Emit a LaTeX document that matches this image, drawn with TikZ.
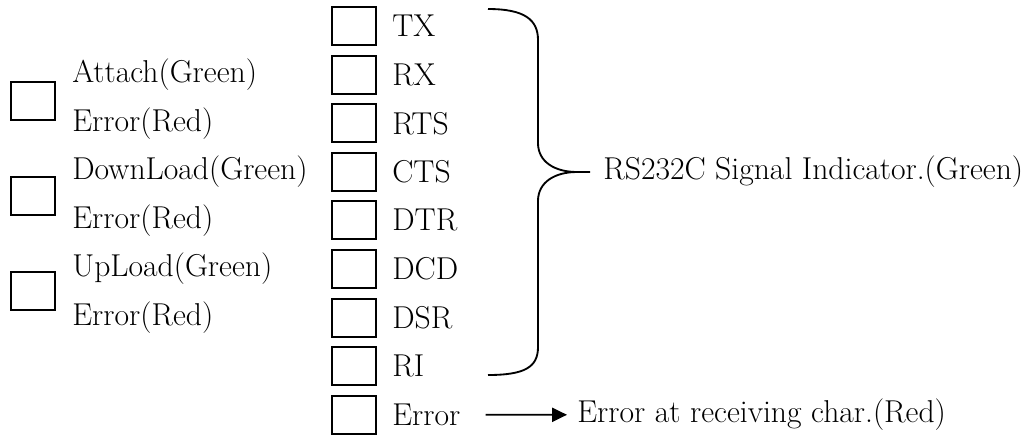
\documentclass[tikz,border=0pt]{standalone}
\usepackage{amsmath}
\usepackage{tikz}
\usetikzlibrary{arrows.meta,calc}
\newcommand{\ledfont}{\fontsize{18}{22}\selectfont}

\begin{document}
\begin{tikzpicture}[x=0.02cm,y=-0.02cm,
  led/.style={draw,line width=1.1pt,minimum width=0.88cm,minimum height=0.76cm,inner sep=0},
  txt/.style={font=\ledfont,anchor=west,inner sep=0}]
\useasboundingbox (0,0) rectangle (1036,434);
% signal lamps
\foreach \s [count=\i] in {TX,RX,RTS,CTS,DTR,DCD,DSR,RI,Error} {
  \node[led] (sig\i) at (354,{26+48.6*(\i-1)}) {};
  \node[txt] (lbl\i) at (392,{26+48.6*(\i-1)}) {\s};
}
% status lamps
\node[led] (st1) at (33,101) {};
\node[led] (st2) at (33,196) {};
\node[led] (st3) at (33,291) {};
\node[txt] (a1) at (72,74.6)  {Attach(Green)};
\node[txt] (a2) at (72,123.2) {Error(Red)};
\node[txt] (b1) at (72,171.8) {DownLoad(Green)};
\node[txt] (b2) at (72,220.4) {Error(Red)};
\node[txt] (c1) at (72,269)   {UpLoad(Green)};
\node[txt] (c2) at (72,317.6) {Error(Red)};
\node[txt] (rs) at (603,172) {RS232C Signal Indicator.(Green)};
\node[txt] (rx) at (577,414.8) {Error at receiving char.(Red)};
% brace
\draw[line width=1.05pt] (488,9) .. controls (525,9) and (538,20) .. (538,40) -- (538,143)
  .. controls (538,162) and (555,172) .. (577,172) -- (590,172);
\draw[line width=1.05pt] (577,172) .. controls (555,172) and (538,182) .. (538,201) -- (538,347)
  .. controls (538,367) and (525,375) .. (488,375);
\draw[-{Triangle[length=8.5pt,width=8pt]},line width=1.05pt,shorten <=0.5cm,shorten >=0.2cm] (lbl9.east) -- (rx.west);
\end{tikzpicture}
\end{document}
